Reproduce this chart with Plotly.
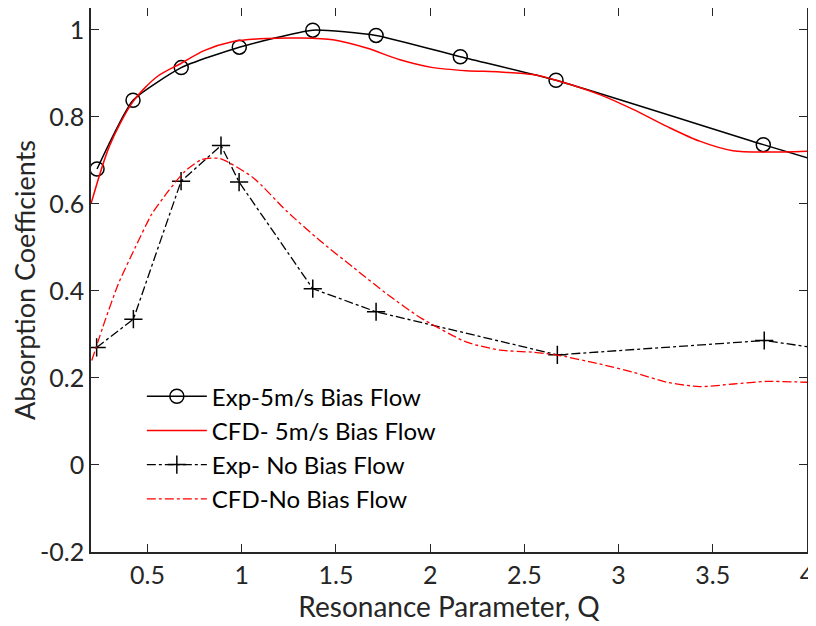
import plotly.graph_objects as go

# Experimental, 5 m/s bias flow (last point lies beyond the axis, clipped)
exp5_q = [0.232, 0.423, 0.679, 0.987, 1.377, 1.713, 2.160, 2.668, 3.768, 4.30]
exp5_a = [0.680, 0.838, 0.913, 0.960, 0.999, 0.987, 0.938, 0.884, 0.736, 0.667]

# CFD, 5 m/s bias flow
cfd5_q = [0.20, 0.30, 0.423, 0.55, 0.679, 0.80, 0.954, 1.13, 1.31, 1.485, 1.663, 1.84, 2.015,
          2.194, 2.37, 2.546, 2.668, 2.90, 3.077, 3.256, 3.43, 3.607, 3.786, 4.00]
cfd5_a = [0.600, 0.735, 0.835, 0.892, 0.923, 0.952, 0.973, 0.980, 0.981, 0.977, 0.958, 0.931, 0.913,
          0.906, 0.903, 0.897, 0.884, 0.851, 0.817, 0.778, 0.744, 0.722, 0.719, 0.721]

# Experimental, no bias flow (last point beyond the axis, clipped)
exp0_q = [0.230, 0.425, 0.678, 0.890, 0.986, 1.377, 1.713, 2.675, 3.773, 4.30]
exp0_a = [0.270, 0.335, 0.652, 0.734, 0.650, 0.405, 0.352, 0.253, 0.286, 0.253]

# CFD, no bias flow
cfd0_q = [0.204, 0.274, 0.345, 0.434, 0.522, 0.61, 0.699, 0.788, 0.885, 1.061, 1.239, 1.416,
          1.592, 1.77, 1.946, 2.194, 2.37, 2.546, 2.668, 2.90, 3.078, 3.256, 3.43, 3.61, 3.786, 4.00]
cfd0_a = [0.240, 0.331, 0.416, 0.499, 0.576, 0.629, 0.675, 0.702, 0.704, 0.660, 0.583, 0.515,
          0.454, 0.393, 0.339, 0.282, 0.264, 0.259, 0.253, 0.232, 0.213, 0.190, 0.180, 0.186, 0.192, 0.190]

x_ticks = [0.5, 1, 1.5, 2, 2.5, 3, 3.5, 4]
y_ticks = [-0.2, 0, 0.2, 0.4, 0.6, 0.8, 1]

FONT = "Lato"
AX = "#262626"

fig = go.Figure()
fig.add_trace(go.Scatter(
    x=exp5_q, y=exp5_a, mode="lines+markers", name="Exp-5m/s Bias Flow",
    line=dict(color="black", width=1.5, shape="spline", smoothing=0.5),
    marker=dict(symbol="circle-open", size=14, color="black", line=dict(width=1.5)),
))
fig.add_trace(go.Scatter(
    x=cfd5_q, y=cfd5_a, mode="lines", name="CFD- 5m/s Bias Flow",
    line=dict(color="red", width=1.5, shape="spline", smoothing=0.8),
))
fig.add_trace(go.Scatter(
    x=exp0_q, y=exp0_a, mode="lines+markers", name="Exp- No Bias Flow",
    line=dict(color="black", width=1.3, dash="dashdot"),
    marker=dict(symbol="cross-thin-open", size=13, color="black", line=dict(width=1.5, color="black")),
))
fig.add_trace(go.Scatter(
    x=cfd0_q, y=cfd0_a, mode="lines", name="CFD-No Bias Flow",
    line=dict(color="red", width=1.3, dash="dashdot", shape="spline", smoothing=0.6),
))

axis_common = dict(
    showline=True, linecolor=AX, linewidth=1.5, mirror="ticks",
    ticks="inside", ticklen=8, tickwidth=1.3, tickcolor=AX,
    showgrid=False, zeroline=False, automargin=False,
    tickfont=dict(family=FONT, size=25, color=AX),
)

# The page body adds an 8 px offset, so the figure is 8 px smaller and margins shifted.
fig.update_layout(
    width=808, height=618,
    margin=dict(l=83, r=9, t=0, b=74),
    paper_bgcolor="white", plot_bgcolor="white",
    font=dict(family=FONT, color=AX),
    xaxis=dict(range=[0.2, 4], tickvals=x_ticks, ticktext=[str(v) for v in x_ticks],
               title=dict(text="Resonance Parameter, Q", font=dict(family=FONT, size=28, color=AX), standoff=6),
               **axis_common),
    yaxis=dict(range=[-0.2, 1.05], tickvals=y_ticks, ticktext=[str(v) for v in y_ticks],
               title=dict(text="Absorption Coefficients", font=dict(family=FONT, size=27, color=AX), standoff=8),
               **axis_common),
    legend=dict(x=0.071, y=0.327, xanchor="left", yanchor="top",
                bgcolor="rgba(0,0,0,0)", borderwidth=0,
                font=dict(family=FONT, size=24, color="black"),
                itemwidth=60, tracegroupgap=0),
    showlegend=True,
)

fig.write_html("out.html")
